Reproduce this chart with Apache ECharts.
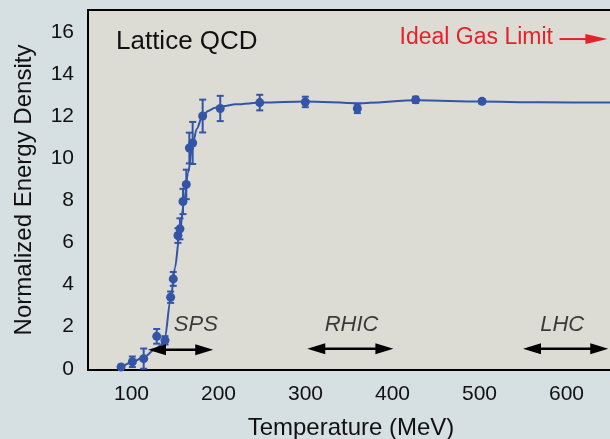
<!DOCTYPE html>
<html><head><meta charset="utf-8">
<script src="https://cdn.jsdelivr.net/npm/echarts@6/dist/echarts.min.js"></script>
<style>html,body{margin:0;padding:0;background:#d6dfe2}#c{width:610px;height:439px}</style>
</head><body><div id="c"></div>
<script>
// Lattice QCD data points: temperature (MeV), normalized energy density, error
const temps    = [88, 101, 114, 129, 138.5, 145, 148, 153.4, 155.7, 159.2, 163, 166.5, 170.3, 181.8, 202, 247.4, 299.8, 359.6, 426.6, 502.9];
const energies = [0.08, 0.33, 0.48, 1.54, 1.35, 3.4, 4.27, 6.33, 6.65, 7.95, 8.76, 10.49, 10.73, 12.01, 12.37, 12.65, 12.68, 12.37, 12.78, 12.71];
const errors   = [0, 0.25, 0.48, 0.35, 0.2, 0.27, 0.33, 0.35, 0.5, 0.6, 0.7, 0.73, 1.0, 0.78, 0.6, 0.37, 0.25, 0.22, 0.15, 0.1];
// smooth fit curve
const curveT = [88, 100, 114, 128, 133, 138, 145, 150, 155, 160, 165, 170, 175, 181, 188, 196, 205, 220, 250, 300, 360, 430, 500, 570, 655];
const curveE = [0.05, 0.3, 0.55, 0.95, 1.1, 1.4, 3.3, 4.8, 6.3, 7.8, 9.3, 10.6, 11.4, 11.95, 12.25, 12.4, 12.48, 12.57, 12.65, 12.7, 12.62, 12.76, 12.7, 12.66, 12.65];
const xTicks = [100, 200, 300, 400, 500, 600];
const yTicks = [0, 2, 4, 6, 8, 10, 12, 14, 16];
// collider ranges
const rangeNames = ['SPS', 'RHIC', 'LHC'];
const rangeFrom  = [119, 302, 550];
const rangeTo    = [194, 401, 648];
const rangeLevel = [0.9, 0.95, 0.95];
const rangeLabelT = [174, 353, 595];
const rangeLabelE = [2.1, 2.1, 2.1];
// ideal gas arrow
const idealFrom = 592, idealTo = 647, idealLevel = 15.67;

const blue = '#3454a8';
const font = '"Liberation Sans", Arial, sans-serif';

const chart = echarts.init(document.getElementById('c'));

function arrowHead(tip, dir, len, half, color) {
  return { type: 'polygon', shape: { points: [[tip[0], tip[1]], [tip[0] - dir * len, tip[1] - half], [tip[0] - dir * len, tip[1] + half]] }, style: { fill: color } };
}

chart.setOption({
  backgroundColor: '#d6dfe2',
  animation: false,
  grid: { left: 88, right: -4, top: 10, bottom: 69, show: true, backgroundColor: '#dcdcd4', borderColor: '#000', borderWidth: 2, outerBoundsMode: 'none', containLabel: false },
  xAxis: {
    type: 'value', min: 50, max: 654.6,
    name: 'Temperature (MeV)', nameLocation: 'middle', nameGap: 46,
    nameTextStyle: { fontSize: 24, color: '#111', fontFamily: font },
    axisLine: { show: true, onZero: false, lineStyle: { color: '#000', width: 2 } },
    axisTick: { show: false }, splitLine: { show: false },
    axisLabel: { customValues: xTicks, fontSize: 21, color: '#111', fontFamily: font, margin: 14 }
  },
  yAxis: {
    type: 'value', min: -0.06, max: 17.05,
    name: 'Normalized Energy Density', nameLocation: 'middle', nameGap: 52,
    nameTextStyle: { fontSize: 24, color: '#111', fontFamily: font },
    axisLine: { show: true, onZero: false, lineStyle: { color: '#000', width: 2 } },
    axisTick: { show: false }, splitLine: { show: false },
    axisLabel: { customValues: yTicks, fontSize: 21, color: '#111', fontFamily: font, margin: 14 }
  },
  graphic: [
    { type: 'text', left: 116, top: 29, style: { text: 'Lattice QCD', fontSize: 26, fill: '#111', fontFamily: font } },
    { type: 'text', right: 610 - 553, top: 26, style: { text: 'Ideal Gas Limit', fontSize: 23, fill: '#e8202a', fontFamily: font } }
  ],
  series: [
    {
      type: 'line', data: curveT.map((t, i) => [t, curveE[i]]), smooth: 0.3, smoothMonotone: 'x',
      showSymbol: false, lineStyle: { color: blue, width: 2 }, z: 2
    },
    {
      type: 'custom', z: 3,
      data: temps.map((t, i) => [t, energies[i], errors[i]]),
      renderItem: function (params, api) {
        const t = api.value(0), e = api.value(1), er = api.value(2);
        const c = api.coord([t, e]);
        const children = [{ type: 'circle', shape: { cx: c[0], cy: c[1], r: 4.5 }, style: { fill: blue } }];
        if (er > 0) {
          const top = api.coord([t, e + er]), bot = api.coord([t, e - er]);
          const s = { stroke: blue, lineWidth: 2 };
          children.push({ type: 'line', shape: { x1: c[0], y1: top[1], x2: c[0], y2: bot[1] }, style: s });
          children.push({ type: 'line', shape: { x1: c[0] - 3.5, y1: top[1], x2: c[0] + 3.5, y2: top[1] }, style: s });
          children.push({ type: 'line', shape: { x1: c[0] - 3.5, y1: bot[1], x2: c[0] + 3.5, y2: bot[1] }, style: s });
        }
        return { type: 'group', children: children };
      }
    },
    {
      type: 'custom', z: 4,
      data: rangeFrom.map((f, i) => [f, rangeTo[i], rangeLevel[i]]),
      renderItem: function (params, api) {
        const a = api.coord([api.value(0), api.value(2)]);
        const b = api.coord([api.value(1), api.value(2)]);
        const len = 18, half = 5.5;
        return { type: 'group', children: [
          { type: 'line', shape: { x1: a[0] + len - 2, y1: a[1], x2: b[0] - len + 2, y2: b[1] }, style: { stroke: '#000', lineWidth: 2.5 } },
          arrowHead(a, -1, len, half, '#000'),
          arrowHead(b, 1, len, half, '#000')
        ] };
      }
    },
    {
      type: 'custom', z: 4,
      data: [[idealFrom, idealTo, idealLevel]],
      renderItem: function (params, api) {
        const a = api.coord([api.value(0), api.value(2)]);
        const b = api.coord([api.value(1), api.value(2)]);
        const len = 22, half = 5;
        return { type: 'group', children: [
          { type: 'line', shape: { x1: a[0], y1: a[1], x2: b[0] - len + 2, y2: b[1] }, style: { stroke: '#e8202a', lineWidth: 2 } },
          arrowHead(b, 1, len, half, '#e8202a')
        ] };
      }
    },
    {
      type: 'scatter', symbolSize: 0, z: 5,
      data: rangeNames.map((n, i) => ({ name: n, value: [rangeLabelT[i], rangeLabelE[i]] })),
      label: { show: true, position: 'inside', formatter: '{b}', fontSize: 22, fontStyle: 'italic', color: '#111', fontFamily: font }
    }
  ]
});
</script></body></html>
